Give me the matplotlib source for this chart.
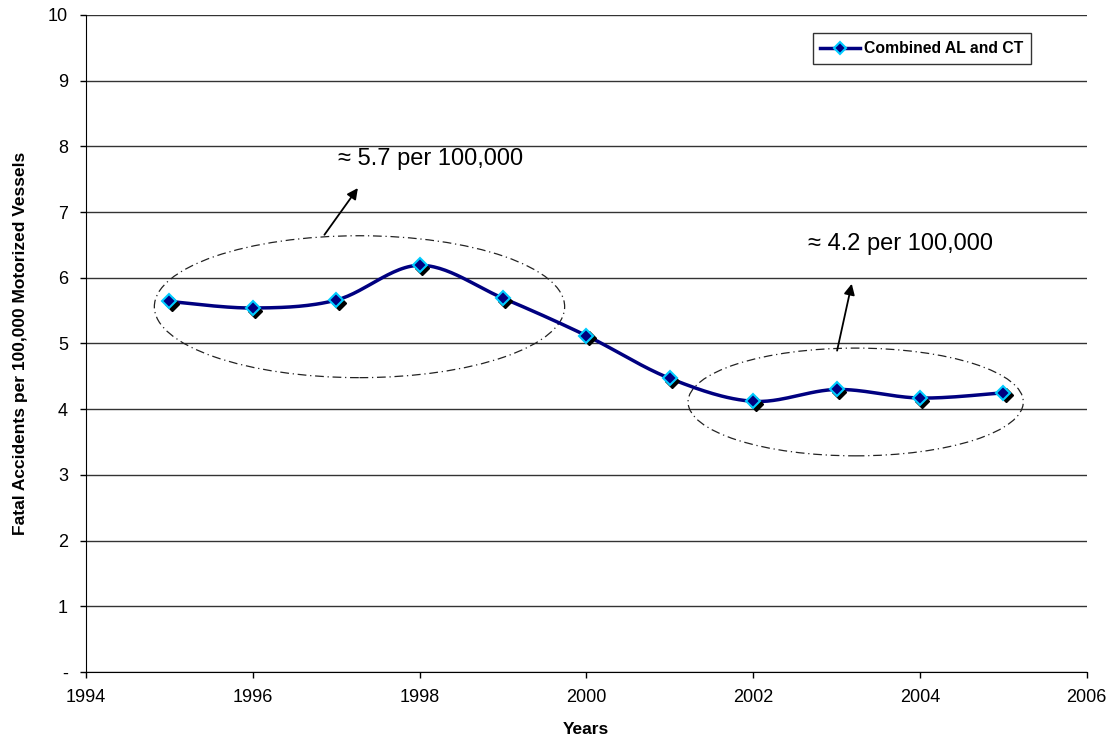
import numpy as np
import matplotlib.pyplot as plt
import matplotlib.transforms as mtransforms
from matplotlib.patches import Ellipse
from matplotlib.ticker import FuncFormatter

plt.rcParams['font.family'] = ['Liberation Sans', 'DejaVu Sans']

years = [1995, 1996, 1997, 1998, 1999, 2000, 2001, 2002, 2003, 2004, 2005]
rate = [5.64, 5.54, 5.66, 6.19, 5.69, 5.12, 4.47, 4.12, 4.30, 4.17, 4.25]
series_name = 'Combined AL and CT'
notes = ['≈ 5.7 per 100,000', '≈ 4.2 per 100,000']


def catmull_rom(x, y, n=30):
    # smooth line through the points, like Excel's "smoothed line"
    x = np.asarray(x, float)
    y = np.asarray(y, float)
    px = np.concatenate([[x[0]], x, [x[-1]]])
    py = np.concatenate([[y[0]], y, [y[-1]]])
    xs, ys = [], []
    t = np.linspace(0, 1, n)
    for i in range(1, len(px) - 2):
        p0, p1, p2, p3 = [np.array([px[j], py[j]]) for j in (i - 1, i, i + 1, i + 2)]
        c1 = p1 + (p2 - p0) / 6
        c2 = p2 - (p3 - p1) / 6
        pts = ((1 - t) ** 3)[:, None] * p1 + (3 * (1 - t) ** 2 * t)[:, None] * c1 \
            + (3 * (1 - t) * t ** 2)[:, None] * c2 + (t ** 3)[:, None] * p2
        xs.append(pts[:, 0])
        ys.append(pts[:, 1])
    return np.concatenate(xs), np.concatenate(ys)


fig = plt.figure(figsize=(11.15, 7.41), dpi=100)
ax = fig.add_axes([0.0771, 0.0931, 0.8975, 0.8867])

sx, sy = catmull_rom(years, rate)
ax.plot(sx, sy, color='#000080', lw=2.5, zorder=3)

# marker shadow
shadow = mtransforms.offset_copy(ax.transData, fig=fig, x=2.5, y=-2.5, units='dots')
ax.plot(years, rate, linestyle='none', marker='D', ms=7, mfc='black', mec='black',
        transform=shadow, zorder=4)
ax.plot(years, rate, linestyle='none', marker='D', ms=7, mfc='#000080', mec='#00CCFF',
        mew=1.5, zorder=5)

# legend proxy
ax.plot([], [], color='#000080', lw=2.5, marker='D', ms=6, mfc='#000080', mec='#00CCFF',
        mew=1.5, label=series_name)

# ellipses + arrows
ax.add_patch(Ellipse((1997.28, 5.56), 4.92, 2.16, fill=False, ec='#222222', lw=0.9,
                     ls=(0, (7, 3, 1, 3)), zorder=2))
ax.add_patch(Ellipse((2003.23, 4.11), 4.02, 1.64, fill=False, ec='#222222', lw=0.9,
                     ls=(0, (7, 3, 1, 3)), zorder=2))
ax.annotate('', xy=(1997.28, 7.40), xytext=(1996.84, 6.62),
            arrowprops=dict(arrowstyle='-|>', color='black', lw=1.3, mutation_scale=16))
ax.annotate('', xy=(2003.19, 5.95), xytext=(2003.0, 4.85),
            arrowprops=dict(arrowstyle='-|>', color='black', lw=1.3, mutation_scale=16))
ax.text(1997.02, 7.81, notes[0], fontsize=17, va='center', ha='left')
ax.text(2002.66, 6.51, notes[1], fontsize=17, va='center', ha='left')

ax.set_xlim(1994, 2006)
ax.set_ylim(0, 10)
ax.set_xticks(range(1994, 2007, 2))
ax.set_yticks(range(0, 11))
ax.yaxis.set_major_formatter(FuncFormatter(lambda v, p: '-' if v == 0 else f'{v:.0f}'))
ax.tick_params(direction='out', length=4, width=1, labelsize=13, color='black')
ax.tick_params(axis='x', pad=8)
ax.tick_params(axis='y', pad=9)
ax.grid(axis='y', color='#333333', lw=1)
ax.set_axisbelow(True)
for s in ('top', 'right'):
    ax.spines[s].set_visible(False)

ax.set_xlabel('Years', fontsize=12.5, fontweight='bold', labelpad=12)
ax.set_ylabel('Fatal Accidents per 100,000 Motorized Vessels', fontsize=12.5, fontweight='bold',
              labelpad=14)

leg = ax.legend(loc='upper right', bbox_to_anchor=(0.944, 0.972), frameon=True, fancybox=False,
                prop={'weight': 'bold', 'size': 11.3}, handlelength=2.5, borderpad=0.5,
                handletextpad=0.25, borderaxespad=0)
leg.get_frame().set_edgecolor('black')
leg.get_frame().set_linewidth(1)

fig.savefig('out.png', dpi=100, facecolor='white')
